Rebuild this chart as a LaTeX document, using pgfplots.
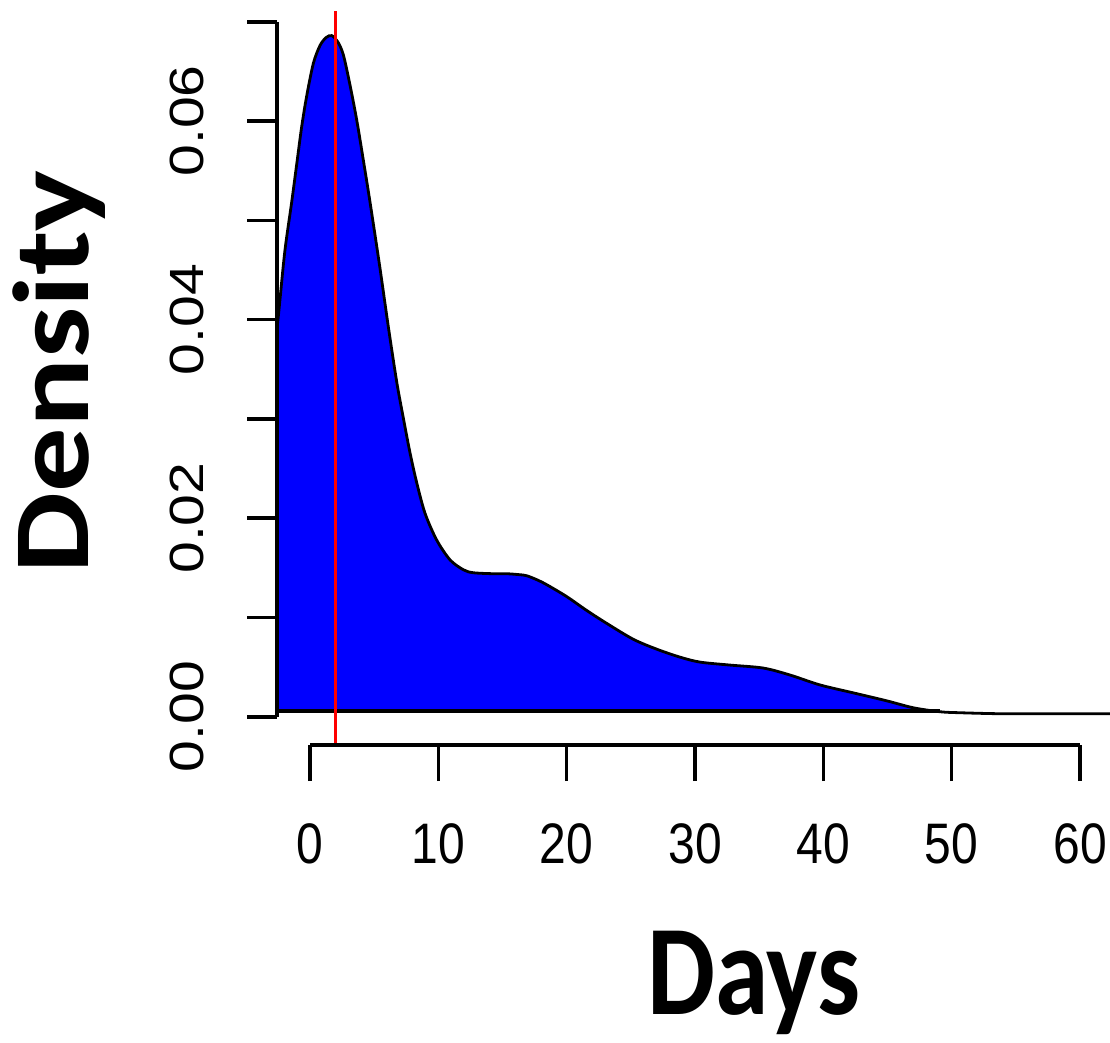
\documentclass[border=0pt]{standalone}
\usepackage{pgfplots}
\pgfplotsset{compat=1.18}
\usepackage{fontspec}
\newfontfamily\tickfont{Liberation Sans}
\newfontfamily\titlefont{Carlito}
\newcommand\ylab[1]{\rotatebox{90}{\scalebox{1.19}[1]{#1}}}
\newcommand\xlab[1]{\scalebox{1}[1.19]{#1}}
\begin{document}
\begin{tikzpicture}
\useasboundingbox (0,0) rectangle (277.5pt,260.5pt);
% data axis
\begin{axis}[scale only axis, hide axis, width=208.25pt, height=183.78pt,
  at={(69.25pt,74.525pt)}, anchor=south west,
  xmin=-2.571, xmax=62.34, ymin=-0.00274, ymax=0.0713]
\addplot[fill=blue, draw=none] coordinates {
(-2.571,0.00057) (-2.571,0.0391) (-2.47,0.0403) (-2.34,0.0420) (-1.95,0.0470)
(-1.43,0.0518) (-1.04,0.0556) (-0.65,0.0594) (-0.26,0.0625) (0.26,0.0658)
(0.78,0.0676) (1.25,0.0684) (1.69,0.0686) (2.15,0.0680) (2.59,0.0667)
(3.12,0.0636) (3.64,0.0601) (4.15,0.0561) (4.68,0.0518) (5.45,0.0452)
(6.10,0.0393) (6.76,0.0337) (7.27,0.0301) (7.79,0.0266) (8.31,0.0236)
(8.96,0.0205) (9.87,0.0178) (10.91,0.0158) (11.95,0.0148) (12.73,0.0145)
(14.29,0.0144) (15.33,0.0144) (16.36,0.0143) (16.88,0.0142) (17.67,0.0138)
(18.44,0.0133) (20.00,0.0121) (21.56,0.0107) (23.12,0.0094) (25.19,0.0078)
(27.02,0.0068) (28.83,0.0060) (30.39,0.0055) (32.73,0.0052) (35.32,0.0049)
(37.40,0.0042) (39.74,0.0032) (42.34,0.0024) (44.94,0.0016) (47.01,0.0009)
(49.09,0.00057)
} -- cycle;
\addplot[black, line width=0.8pt] coordinates {(-2.571,0.00057) (49.09,0.00057)};
\addplot[black, line width=0.7pt, smooth] coordinates {
(-2.571,0.0391) (-2.47,0.0403) (-2.34,0.0420) (-1.95,0.0470)
(-1.43,0.0518) (-1.04,0.0556) (-0.65,0.0594) (-0.26,0.0625) (0.26,0.0658)
(0.78,0.0676) (1.25,0.0684) (1.69,0.0686) (2.15,0.0680) (2.59,0.0667)
(3.12,0.0636) (3.64,0.0601) (4.15,0.0561) (4.68,0.0518) (5.45,0.0452)
(6.10,0.0393) (6.76,0.0337) (7.27,0.0301) (7.79,0.0266) (8.31,0.0236)
(8.96,0.0205) (9.87,0.0178) (10.91,0.0158) (11.95,0.0148) (12.73,0.0145)
(14.29,0.0144) (15.33,0.0144) (16.36,0.0143) (16.88,0.0142) (17.67,0.0138)
(18.44,0.0133) (20.00,0.0121) (21.56,0.0107) (23.12,0.0094) (25.19,0.0078)
(27.02,0.0068) (28.83,0.0060) (30.39,0.0055) (32.73,0.0052) (35.32,0.0049)
(37.40,0.0042) (39.74,0.0032) (42.34,0.0024) (44.94,0.0016) (47.01,0.0009)
(49.09,0.0005) (50.65,0.0004) (53.77,0.0003) (57.66,0.0003) (62.34,0.0003)
};
\addplot[red, line width=0.75pt] coordinates {(1.95,-0.00274) (1.95,0.0711)};
\end{axis}
% y axis
\begin{axis}[scale only axis, width=5pt, height=173.75pt,
  at={(69.25pt,81.325pt)}, anchor=south west,
  xmin=0, xmax=1, ymin=0, ymax=0.07,
  axis y line=left, axis x line=none,
  scaled y ticks=false,
  axis line style={-, line width=0.9pt, black},
  tick style={line width=0.9pt, black},
  tick align=outside, major tick length=7.5pt,
  ytick={0,0.01,0.02,0.03,0.04,0.05,0.06,0.07},
  yticklabels={\ylab{0.00},,\ylab{0.02},,\ylab{0.04},,\ylab{0.06},},
  yticklabel style={anchor=east, inner sep=0pt, xshift=-10.5pt, font=\tickfont\fontsize{12}{14}\selectfont}]
\addplot[draw=none] coordinates {(0,0)};
\end{axis}
% x axis
\begin{axis}[scale only axis, width=192.5pt, height=5pt,
  at={(77.5pt,74.25pt)}, anchor=south west,
  xmin=0, xmax=60, ymin=0, ymax=1,
  axis x line=bottom, axis y line=none,
  scaled x ticks=false,
  axis line style={-, line width=0.9pt, black},
  tick style={line width=0.9pt, black},
  tick align=outside, major tick length=9pt,
  xtick={0,10,20,30,40,50,60},
  xticklabels={\xlab{0},\xlab{10},\xlab{20},\xlab{30},\xlab{40},\xlab{50},\xlab{60}},
  xticklabel style={anchor=north, inner sep=0pt, yshift=-10.5pt, font=\tickfont\fontsize{12}{14}\selectfont}]
\addplot[draw=none] coordinates {(0,0)};
\end{axis}
\node[anchor=base, font=\titlefont\bfseries\fontsize{27}{30}\selectfont] at (188.5pt,6.8pt) {\scalebox{1}[1.19]{Days}};
\node[rotate=90, anchor=base, font=\titlefont\bfseries\fontsize{27}{30}\selectfont] at (22pt,167.5pt) {\scalebox{1.19}[1]{Density}};
\end{tikzpicture}
\end{document}
